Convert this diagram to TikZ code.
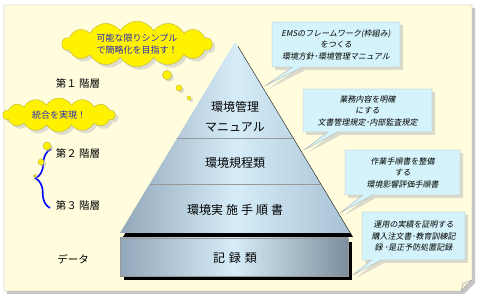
\documentclass[tikz,border=0pt]{standalone}
\usepackage{fontspec}
\setmainfont{Noto Sans CJK JP}
\newfontfamily\slantjp[FakeSlant=0.18]{Noto Sans CJK JP}
\usetikzlibrary{shapes.callouts,shapes.symbols,shadows,decorations.pathreplacing}
\definecolor{notepaper}{RGB}{255,253,222}
\definecolor{memofill}{RGB}{212,243,250}
\definecolor{steelL}{RGB}{146,168,186}
\definecolor{steelM}{RGB}{214,236,248}
\definecolor{steelR}{RGB}{168,194,212}
\definecolor{cloudblue}{RGB}{40,40,190}
\tikzset{
  memo/.style={rectangle callout, draw=gray!60, fill=memofill, callout pointer width=10pt,
    font=\slantjp\fontsize{8}{11.5}\selectfont, align=center, inner sep=2pt,
    drop shadow={fill=gray!55, shadow xshift=3pt, shadow yshift=-3pt}},
  bubble/.style={cloud, cloud puffs=14, cloud puff arc=120, fill=yellow, draw=yellow!70!black,
    text=cloudblue, font=\fontsize{9}{12}\selectfont, align=center, inner sep=0pt,
    drop shadow={fill=gray!50, shadow xshift=3pt, shadow yshift=-3pt}},
  puff/.style={circle, fill=yellow, draw=yellow!70!black, inner sep=0pt,
    drop shadow={fill=gray!60, shadow xshift=2pt, shadow yshift=-2pt}},
  layer/.style={font=\fontsize{12}{14}\selectfont},
  level/.style={font=\fontsize{10.5}{12}\selectfont}
}

\begin{document}
\begin{tikzpicture}[x=1pt, y=-1pt]
  \useasboundingbox (0,0) rectangle (480,302);
  % note paper
  \fill[gray!45] (7,8) -- (475,8) -- (475,283) -- (464,294) -- (7,294) -- cycle;
  \filldraw[fill=notepaper, draw=gray!70] (4,5) -- (472,5) -- (472,280) -- (461,291) -- (4,291) -- cycle;
  \filldraw[fill=notepaper!85!gray, draw=gray!70] (461,291) -- (463,283) -- (472,280) -- cycle;

  % pyramid
  \fill[black] (238,46) -- (353,237) -- (123,237) -- cycle;
  \shade[left color=steelL, right color=steelR, middle color=steelM] (235,42) -- (350,233) -- (120,233) -- cycle;
  \draw[gray!80] (177.2,138) -- (292.8,138);
  \draw[gray!80] (149.5,184) -- (320.5,184);
  \fill[black] (124,242) rectangle (352,280);
  \shade[left color=steelL, right color=steelL!85!black, middle color=steelM] (120,238) rectangle (348,276);
  \draw[gray!80] (120,238) rectangle (348,276);

  \node[layer] (mgmt) at (235,107) {環境管理};
  \node[layer] (manual) at (235,127) {マニュアル};
  \node[layer] (rules) at (235,163) {環境規程類};
  \node[layer] (procs) at (235,210) {環境実\hspace{3pt}施\hspace{3pt}手\hspace{3pt}順\hspace{3pt}書};
  \node[layer] (records) at (235,258) {記\hspace{4pt}録\hspace{4pt}類};

  % levels
  \node[level] (lv1) at (78,83) {第１ 階層};
  \node[level] (lv2) at (78,153) {第２ 階層};
  \node[level] (lv3) at (78,205) {第３ 階層};
  \node[level] (data) at (73,259) {データ};
  \coordinate (b3) at (50,208);
  \coordinate (b2) at (51,149);
  \draw[blue, line width=1.6pt, decorate, decoration={brace, amplitude=15pt}] (b3) -- (b2);

  % thought clouds
  \node[bubble, aspect=3.6, minimum width=150pt, minimum height=42pt] (simple) at (137,44) {可能な限りシンプル\\で簡略化を目指す！};
  \node[puff, minimum size=9pt] (s1) at (167,75) {};
  \node[puff, minimum size=6pt] (s2) at (179,88) {};
  \node[puff, minimum size=4pt] (s3) at (189,98) {};
  \node[bubble, aspect=3.3, minimum width=112pt, minimum height=34pt] (unify) at (59,115) {統合を実現！};
  \node[puff, minimum size=8pt] (u1) at (47,146) {};
  \node[puff, minimum size=6pt] (u2) at (41,162) {};
  \node[puff, minimum size=3pt] (u3) at (35,176) {};

  % callouts
  \coordinate (p1) at (265,86);
  \coordinate (p2) at (304,150);
  \coordinate (p3) at (340,213);
  \coordinate (p4) at (353,275);
  \node[memo, minimum width=128pt, minimum height=45pt, callout absolute pointer=(p1)] (framework) at (336,44.5)
    {EMSのフレームワーク(枠組み)\\をつくる\\環境方針･環境管理マニュアル};
  \node[memo, minimum width=129pt, minimum height=43pt, callout absolute pointer=(p2)] (tasks) at (367.5,110.5)
    {業務内容を明確\\にする\\文書管理規定･内部監査規定};
  \node[memo, minimum width=115pt, minimum height=45pt, callout absolute pointer=(p3)] (manuals) at (402.5,172.5)
    {作業手順書を整備\\する\\環境影響評価手順書};
  \node[memo, minimum width=103pt, minimum height=48pt, callout absolute pointer=(p4)] (proof) at (413.5,236)
    {運用の実績を証明する\\購入注文書･教育訓練記\\録 ･是正予防処置記録};
\end{tikzpicture}
\end{document}
